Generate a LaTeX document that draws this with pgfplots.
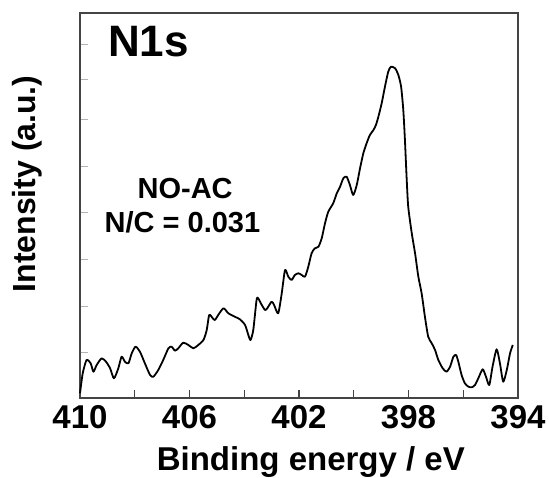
\documentclass[border=0pt]{standalone}
\usepackage{fontspec}
\setmainfont{Liberation Sans}
\usepackage{pgfplots}
\pgfplotsset{compat=1.18}
\usetikzlibrary{calc}

% N1s spectrum (x = binding energy, y = height above the baseline)
\pgfplotstableread{
be      int
410.00  4.7
409.90  24.7
409.76  38.0
409.61  34.7
409.51  26.3
409.39  33.0
409.21  39.7
409.05  36.3
408.90  29.7
408.76  19.7
408.60  29.7
408.48  41.3
408.36  36.3
408.23  34.7
408.11  44.7
407.97  51.3
407.81  46.3
407.63  34.7
407.44  23.0
407.32  21.3
407.14  28.0
406.96  38.0
406.77  49.7
406.65  51.3
406.53  47.3
406.41  49.7
406.23  55.3
406.04  53.0
405.86  49.7
405.68  53.0
405.49  58.0
405.37  68.0
405.28  83.0
405.15  79.7
405.07  78.0
404.95  83.0
404.76  89.7
404.58  84.7
404.40  82.0
404.16  78.7
403.97  73.0
403.85  63.0
403.77  58.0
403.67  68.0
403.55  98.0
403.49  99.7
403.36  93.0
403.24  88.0
403.16  89.7
403.00  96.3
402.91  93.0
402.76  84.7
402.63  104.7
402.51  128.0
402.39  121.3
402.27  118.0
402.15  123.0
402.02  124.7
401.90  123.0
401.78  121.3
401.66  131.3
401.54  144.7
401.42  149.7
401.29  151.3
401.17  159.7
401.05  174.7
400.93  186.3
400.75  194.7
400.62  204.7
400.50  211.3
400.38  219.7
400.26  221.3
400.14  213.0
400.02  203.0
399.89  213.0
399.77  229.7
399.65  244.7
399.53  254.7
399.41  263.0
399.28  268.0
399.19  273.0
399.10  281.3
398.98  294.7
398.86  311.3
398.74  326.3
398.64  331.3
398.49  329.7
398.37  323.0
398.27  311.3
398.19  288.0
398.13  258.0
398.07  221.3
398.01  191.3
397.88  164.7
397.76  144.7
397.64  121.3
397.52  104.7
397.40  81.3
397.28  61.3
397.15  54.7
397.03  48.0
396.91  38.0
396.75  29.7
396.61  26.3
396.48  31.3
396.36  41.3
396.26  43.0
396.18  36.3
396.06  23.0
395.94  14.7
395.81  11.3
395.69  10.7
395.57  13.0
395.45  19.7
395.29  28.7
395.17  21.3
395.05  13.0
394.93  31.3
394.78  48.7
394.66  34.7
394.54  16.3
394.41  28.0
394.29  44.7
394.19  53.0
}\nsdata

\definecolor{framegray}{HTML}{444444}

\begin{document}
\begin{tikzpicture}
\begin{axis}[
  name=ax,
  scale only axis,
  width=438pt, height=385pt,
  x dir=reverse,
  xmin=394, xmax=410,
  ymin=0, ymax=385,
  axis line style={framegray, line width=1.5pt},
  xtick={394,398,402,406,410},
  minor xtick={396,400,404,408},
  xtick pos=bottom,
  ytick pos=left,
  ytick={46,92,139,186,232,279,318,353},
  yticklabels={},
  tick align=inside,
  major tick length=8pt,
  minor tick length=8pt,
  xtick style={framegray, line width=1.4pt},
  minor x tick style={framegray, line width=1.4pt},
  ytick style={gray!60, line width=1pt},
  /pgf/number format/assume math mode=true,
  xticklabel style={font=\fontsize{33}{33}\selectfont\bfseries, yshift=-4pt},
  xticklabel={\pgfmathprintnumber[fixed,precision=0]{\tick}},
  xlabel={Binding energy / eV},
  xlabel style={font=\fontsize{33}{33}\selectfont\bfseries, anchor=base,
    at={(axis description cs:0.527,0)}, yshift=-72pt},
  ylabel={Intensity (a.u.)},
  ylabel style={font=\fontsize{32}{32}\selectfont\bfseries, anchor=base,
    at={(axis description cs:-0.1027,0.556)}},
  clip=false,
]
\addplot[black, line width=1.8pt, smooth, tension=0.4, line join=round]
  table[x=be, y=int] {\nsdata};

\node[anchor=base west, inner sep=0, font=\fontsize{44}{44}\selectfont\bfseries]
  at (rel axis cs:0.064,0.886) {N1s};
\node[anchor=base, inner sep=0, font=\fontsize{29}{29}\selectfont\bfseries]
  at (rel axis cs:0.240,0.519) {NO-AC};
\node[anchor=base, inner sep=0, font=\fontsize{29}{29}\selectfont\bfseries]
  at (rel axis cs:0.234,0.429) {N/C = 0.031};
\end{axis}
\pgfresetboundingbox
\path ($(ax.south west)+(-80pt,-79pt)$) rectangle ($(ax.north east)+(31pt,13pt)$);
\end{tikzpicture}
\end{document}
